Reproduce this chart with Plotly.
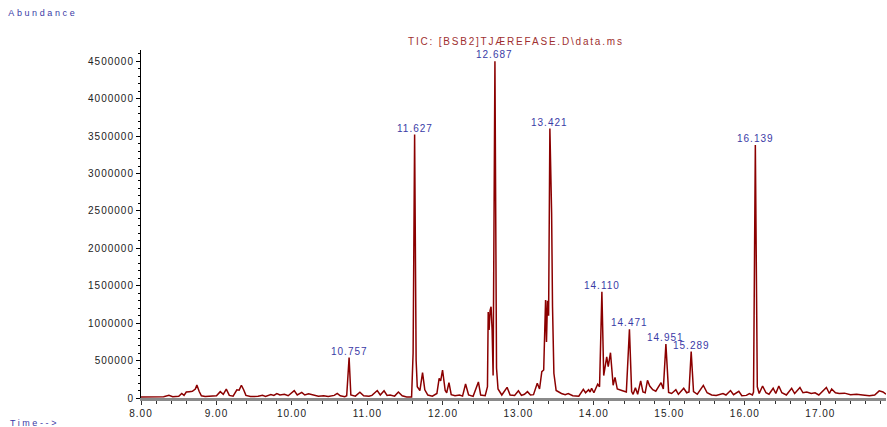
import plotly.graph_objects as go

# Retention time (min) and abundance
time_min = [
    8.00, 8.10, 8.20, 8.25, 8.30, 8.37, 8.42, 8.50, 8.54, 8.57, 8.60, 8.64, 8.68, 8.72, 8.74, 8.77,
    8.80, 8.85, 8.95, 9.00, 9.05, 9.09, 9.13, 9.17, 9.22, 9.27, 9.30, 9.33, 9.36, 9.39, 9.45, 9.55,
    9.61, 9.65, 9.72, 9.76, 9.80, 9.84, 9.90, 9.95, 10.03, 10.07, 10.13, 10.17, 10.22, 10.28, 10.35,
    10.42, 10.48, 10.56, 10.60, 10.64, 10.70, 10.725, 10.757, 10.78, 10.84, 10.90, 10.95, 11.02,
    11.06, 11.13, 11.17, 11.22, 11.26, 11.30, 11.36, 11.41, 11.46, 11.52, 11.585, 11.605, 11.625,
    11.645, 11.66, 11.695, 11.73, 11.76, 11.80, 11.86, 11.92, 11.95, 11.97, 11.995, 12.03, 12.05,
    12.08, 12.11, 12.16, 12.22, 12.26, 12.30, 12.34, 12.40, 12.47, 12.50, 12.56, 12.59, 12.60,
    12.612, 12.625, 12.638, 12.652, 12.665, 12.689, 12.71, 12.73, 12.78, 12.85, 12.89, 12.95, 13.00,
    13.04, 13.08, 13.12, 13.16, 13.20, 13.25, 13.28, 13.31, 13.335, 13.36, 13.372, 13.385, 13.40,
    13.417, 13.44, 13.452, 13.47, 13.50, 13.53, 13.57, 13.62, 13.66, 13.72, 13.80, 13.86, 13.89,
    13.93, 13.95, 13.97, 14.00, 14.05, 14.075, 14.106, 14.13, 14.17, 14.19, 14.22, 14.24, 14.255,
    14.28, 14.31, 14.37, 14.43, 14.471, 14.50, 14.52, 14.55, 14.58, 14.62, 14.65, 14.68, 14.71,
    14.74, 14.78, 14.82, 14.89, 14.92, 14.954, 14.99, 15.03, 15.086, 15.12, 15.19, 15.23, 15.26,
    15.289, 15.32, 15.37, 15.45, 15.50, 15.56, 15.62, 15.66, 15.71, 15.75, 15.81, 15.85, 15.92,
    15.96, 16.02, 16.06, 16.10, 16.115, 16.139, 16.165, 16.19, 16.235, 16.28, 16.32, 16.375, 16.41,
    16.45, 16.49, 16.55, 16.62, 16.66, 16.73, 16.77, 16.82, 16.88, 16.93, 16.98, 17.08, 17.12,
    17.15, 17.20, 17.25, 17.32, 17.40, 17.48, 17.56, 17.65, 17.72, 17.78, 17.83, 17.87,
]
abundance = [
    15000, 18000, 15000, 25000, 18000, 35000, 18000, 22000, 60000, 35000, 80000, 85000, 90000, 120000, 175000, 90000,
    30000, 20000, 22000, 30000, 85000, 50000, 118000, 35000, 25000, 110000, 105000, 170000, 110000, 35000, 20000, 22000,
    35000, 22000, 45000, 35000, 60000, 40000, 50000, 30000, 98000, 40000, 75000, 40000, 55000, 40000, 25000,
    30000, 20000, 35000, 62000, 30000, 18000, 30000, 540000, 40000, 25000, 78000, 30000, 25000,
    35000, 100000, 40000, 97000, 35000, 40000, 25000, 80000, 30000, 15000, 15000, 600000, 3520000,
    500000, 150000, 100000, 340000, 110000, 40000, 25000, 60000, 263000, 230000, 374000, 100000, 70000,
    205000, 45000, 30000, 40000, 25000, 187000, 40000, 22000, 214000, 40000, 30000, 150000, 1150000,
    910000, 1170000, 1220000, 900000, 300000, 4500000, 400000, 120000, 40000, 143000, 40000, 35000, 97000,
    35000, 50000, 85000, 40000, 45000, 196000, 120000, 351000, 374000, 1310000, 750000, 1300000, 1100000,
    3600000, 2470000, 1220000, 330000, 100000, 80000, 60000, 45000, 60000, 30000, 25000, 116000, 70000,
    110000, 80000, 130000, 70000, 183000, 150000, 1420000, 300000, 550000, 420000, 605000, 370000, 170000,
    276000, 120000, 100000, 80000, 917000, 85000, 50000, 138000, 50000, 230000, 80000, 70000, 236000,
    160000, 110000, 90000, 205000, 120000, 720000, 75000, 60000, 110000, 50000, 130000, 70000, 80000,
    620000, 85000, 50000, 168000, 70000, 40000, 35000, 45000, 60000, 40000, 100000, 45000, 90000,
    30000, 35000, 60000, 40000, 80000, 3380000, 150000, 60000, 160000, 70000, 50000, 130000, 60000,
    160000, 70000, 40000, 130000, 60000, 140000, 70000, 80000, 60000, 70000, 40000, 140000, 60000,
    120000, 70000, 60000, 65000, 45000, 50000, 40000, 30000, 40000, 95000, 80000, 50000,
]

# Labelled peaks
peak_labels = ["10.757", "11.627", "12.687", "13.421", "14.110", "14.471", "14.951", "15.289", "16.139"]
peak_times = [10.757, 11.625, 12.689, 13.417, 14.106, 14.471, 14.954, 15.289, 16.139]
peak_heights = [540000, 3520000, 4500000, 3600000, 1420000, 917000, 720000, 620000, 3380000]

y_ticks = [0, 500000, 1000000, 1500000, 2000000, 2500000, 3000000, 3500000, 4000000, 4500000]
x_ticks = [8, 9, 10, 11, 12, 13, 14, 15, 16, 17]

FONT = "Liberation Sans, Arial, sans-serif"
BLUE = "#3a3aa6"
RED = "#8b0000"

W, H = 887, 427
ML, MR, MT, MB = 141, 1, 50, 29
pw, ph = W - ML - MR, H - MT - MB

fig = go.Figure()
fig.add_trace(go.Scatter(
    x=time_min, y=abundance, mode="lines",
    line=dict(color=RED, width=1.5), hoverinfo="skip", showlegend=False,
))

annotations = []
for lab, t, h in zip(peak_labels, peak_times, peak_heights):
    annotations.append(dict(
        x=t, y=h, xref="x", yref="y", text=lab, showarrow=False,
        yanchor="bottom", xanchor="center", yshift=0, borderpad=0,
        font=dict(family=FONT, size=10, color=BLUE),
    ))

annotations.append(dict(
    text="TIC: [BSB2]TJÆREFASE.D\\data.ms", x=(516 - ML) / pw, y=1, xref="paper", yref="paper",
    yanchor="bottom", xanchor="center", yshift=2, borderpad=0, showarrow=False,
    font=dict(family=FONT, size=10, color="#a03030")))

# corner labels, placed by pixel position converted into paper coordinates
for txt, px, py in [("Abundance", 18, 13), ("Time-->", 17, 423)]:
    annotations.append(dict(
        text=txt, x=(px - ML) / pw, y=1 - (py - MT) / ph, xref="paper", yref="paper",
        xanchor="left", yanchor="middle", showarrow=False,
        font=dict(family=FONT, size=9, color=BLUE)))

fig.update_layout(
    width=W, height=H,
    margin=dict(l=ML, r=MR, t=MT, b=MB, pad=0),
    paper_bgcolor="white", plot_bgcolor="white",
    font=dict(family=FONT, size=10, color="#222222"),
    annotations=annotations,
    xaxis=dict(
        range=[8, 17.87], tickvals=x_ticks, tickformat=".2f",
        showgrid=False, zeroline=False,
        showline=True, linecolor="#8a8a8a", linewidth=2.5, layer="below traces",
        ticks="outside", ticklen=4, tickcolor="#333333", tickwidth=1,
        minor=dict(dtick=0.2, tick0=8, ticks="outside", ticklen=3, tickcolor="#333333"),
        tickfont=dict(family=FONT, size=10, color="#222222"),
    ),
    yaxis=dict(
        range=[0, 4.65e6], tickvals=y_ticks, tickformat="d",
        showgrid=False, zeroline=False,
        showline=True, linecolor="#000000", linewidth=1,
        ticks="outside", ticklen=4, tickcolor="#000000", tickwidth=1,
        minor=dict(dtick=100000, tick0=0, ticks="outside", ticklen=2, tickcolor="#000000"),
        tickfont=dict(family=FONT, size=10, color="#222222"),
    ),
)

post = """
var s=document.createElement('style');
s.innerHTML='html,body{margin:0;padding:0;} .main-svg text{letter-spacing:1px;}';
document.head.appendChild(s);
document.querySelectorAll('.annotation-text').forEach(function(t){
  var c=t.textContent;
  if(c.indexOf('TIC')===0){t.style.letterSpacing='1.8px';}
  else if(c==='Abundance'||c.indexOf('Time')===0){t.style.letterSpacing='2.6px';}
});
"""
fig.write_html("out.html", post_script=post, config={"displayModeBar": False})
